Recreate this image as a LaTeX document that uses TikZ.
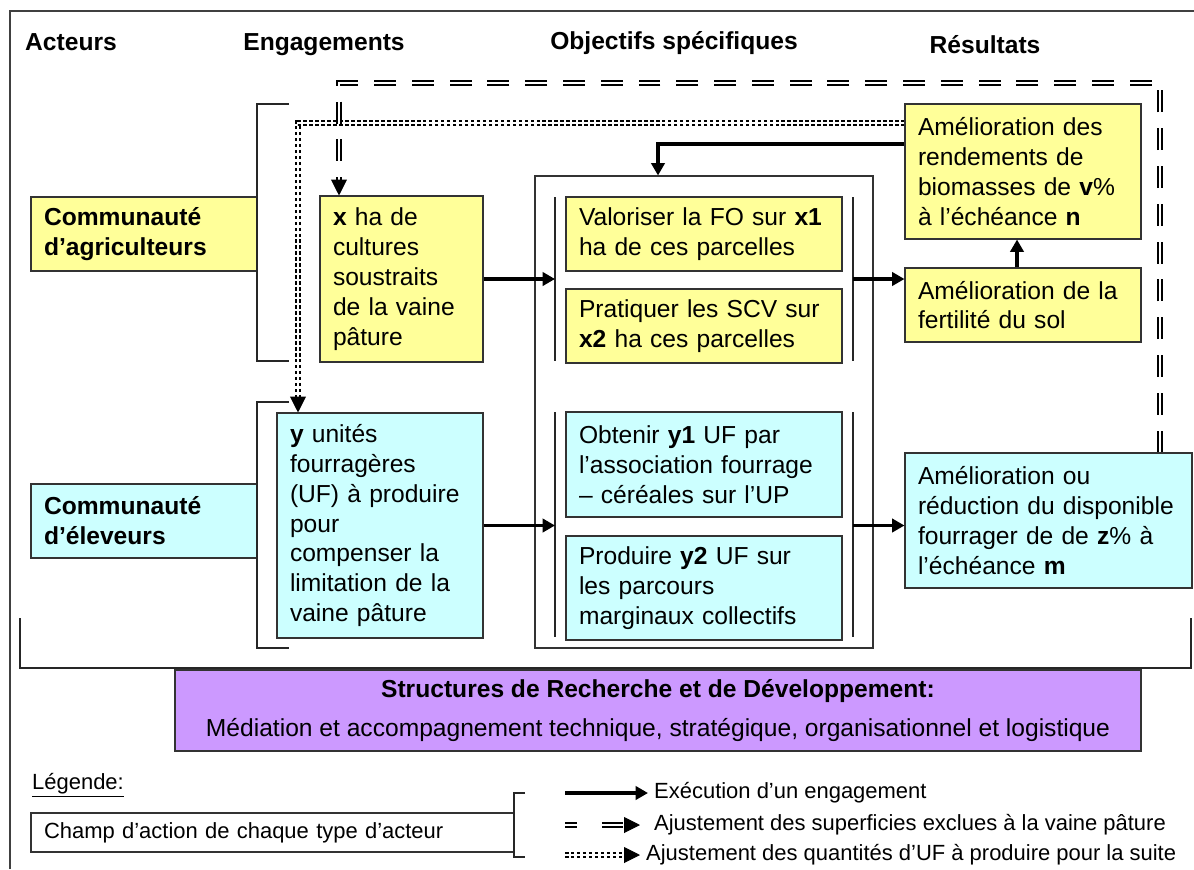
\documentclass[tikz,border=0pt]{standalone}
\usepackage{fontspec}
\setmainfont{Liberation Sans}
\usepackage{tikz}
\usetikzlibrary{arrows.meta,positioning,calc}

\definecolor{boxyellow}{HTML}{FFFF99}
\definecolor{boxcyan}{HTML}{CCFFFF}
\definecolor{boxpurple}{HTML}{CC99FF}

\begin{document}
\begin{tikzpicture}[
  font=\fontsize{14}{17}\selectfont,
  every node/.style={},
  basebox/.style={draw=black!80, line width=0.6pt, align=left, inner xsep=0.26cm, inner ysep=0pt},
  ybox/.style={basebox, fill=boxyellow},
  cbox/.style={basebox, fill=boxcyan},
  colhead/.style={font=\fontsize{14}{17}\selectfont\bfseries},
  grp/.style={draw=black!85, line width=0.7pt},
  exec/.style={-{Triangle[length=7pt,width=7.5pt]}, line width=2.2pt},
  adjsup/.style={double, line width=0.9pt, double distance=1.4pt, dash pattern=on 12.5pt off 9pt},
  adjuf/.style={double, line width=1pt, double distance=1.2pt, dash pattern=on 2pt off 1.4pt},
  arrtip/.style={-{Triangle[length=9pt,width=9pt]}, line width=0.5pt},
  legtext/.style={font=\fontsize{12.5}{15}\selectfont, anchor=west}
]
\useasboundingbox (0,0) rectangle (23.88,-17.38);

\draw[draw=black!75, line width=0.8pt] (0.2,-17.38) |- (23.88,-0.22);

\node[colhead] (hact) at (1.42,-0.84) {Acteurs};
\node[colhead] (heng) at (6.48,-0.90) {Engagements};
\node[colhead] (hobj) at (13.48,-0.86) {Objectifs spécifiques};
\node[colhead] (hres) at (19.70,-0.90) {Résultats};

\node[ybox, font=\fontsize{14}{17}\selectfont\bfseries, text width=4.00cm, minimum height=1.48cm] (agri) at (2.88,-4.68) {Communauté\\d’agriculteurs};
\node[cbox, font=\fontsize{14}{17}\selectfont\bfseries, text width=4.00cm, minimum height=1.48cm] (elev) at (2.88,-10.42) {Communauté\\d’éleveurs};

\node[ybox, text width=2.74cm, minimum height=3.32cm] (xha) at (8.03,-5.58) {\textbf{x} ha de\\cultures\\soustraits\\de la vaine\\pâture};
\node[cbox, text width=3.60cm, minimum height=4.50cm] (yuf) at (7.60,-10.51) {\textbf{y} unités\\fourragères\\(UF) à produire\\pour\\compenser la\\limitation de la\\vaine pâture};

\node[basebox, minimum width=6.76cm, minimum height=9.44cm] (obj) at (14.08,-8.24) {};
\node[ybox, text width=5.00cm, minimum height=1.48cm] (valo) at (14.08,-4.68) {Valoriser la FO sur \textbf{x1}\\ha de ces parcelles};
\node[ybox, text width=5.00cm, minimum height=1.48cm] (prat) at (14.08,-6.52) {Pratiquer les SCV sur\\\textbf{x2} ha ces parcelles};
\node[cbox, text width=5.00cm, minimum height=2.10cm] (obt) at (14.08,-9.29) {Obtenir \textbf{y1} UF par\\l’association fourrage\\– céréales sur l’UP};
\node[cbox, text width=5.00cm, minimum height=2.08cm] (prod) at (14.08,-11.76) {Produire \textbf{y2} UF sur\\les parcours\\marginaux collectifs};

\node[ybox, text width=4.20cm, minimum height=2.70cm] (rend) at (20.46,-3.43) {Amélioration des\\rendements de\\biomasses de \textbf{v}\%\\à l’échéance \textbf{n}};
\node[ybox, text width=4.20cm, minimum height=1.48cm] (fert) at (20.46,-6.10) {Amélioration de la\\fertilité du sol};
\node[cbox, text width=5.22cm, minimum height=2.70cm] (redu) at (20.97,-10.41) {Amélioration ou\\réduction du disponible\\fourrager de de \textbf{z}\% à\\l’échéance \textbf{m}};

\node[basebox, fill=boxpurple, align=center, minimum width=19.32cm, minimum height=1.62cm] (rd) at (13.16,-14.21) {\textbf{Structures de Recherche et de Développement:}\\[5pt]Médiation et accompagnement technique, stratégique, organisationnel et logistique};

\draw[grp] (5.78,-2.08) -| (5.14,-7.22) -- (5.78,-7.22);
\draw[grp] (5.78,-8.04) -| (5.14,-12.96) -- (5.78,-12.96);
\draw[grp] (0.40,-12.36) |- (23.82,-13.36) -- (23.82,-12.36);

\coordinate (gl) at (11.10,0);
\coordinate (gr) at (17.06,0);
\foreach \gx in {11.10,17.06} {
  \draw[grp] (\gx,-3.94) -- (\gx,-7.22);
  \draw[grp] (\gx,-8.24) -- (\gx,-12.74);
}

\draw[exec] (xha.east) -- (xha.east -| gl);
\draw[exec] (xha.east -| gr) -- (xha.east -| fert.west);
\draw[exec] (yuf.east) -- (yuf.east -| gl);
\draw[exec] (yuf.east -| gr) -- (yuf.east -| redu.west);
\draw[exec] ([xshift=-0.12cm]fert.north) -- ([xshift=-0.12cm]rend.south);
\draw[exec] ([yshift=0.55cm]rend.west) -| ([xshift=-0.92cm]obj.north);

\coordinate (yin) at ([xshift=-1.64cm]yuf.north);
\draw[adjuf] ([yshift=0.97cm]rend.west) -| ([yshift=0.30cm]yin);
\draw[arrtip] ([yshift=0.31cm]yin) -- (yin);

\coordinate (xin) at ([xshift=-1.25cm]xha.north);
\coordinate (dtop) at (0,-1.66);
\draw[adjsup] ([xshift=2.23cm]redu.north) |- (xin |- dtop) -- ([yshift=0.30cm]xin);
\draw[arrtip] ([yshift=0.31cm]xin) -- (xin);

\node[anchor=west, font=\fontsize{12.5}{15}\selectfont] (legtitle) at (0.52,-15.70) {\underline{Légende:}};
\node[basebox, fill=white, font=\fontsize{12.5}{15}\selectfont, text width=9.14cm, minimum height=0.78cm] (champ) at (5.45,-16.65) {Champ d’action de chaque type d’acteur};
\draw[grp] (10.50,-15.86) -| (10.28,-17.14) -- (10.50,-17.14);

\node[legtext] (lexe) at (12.96,-15.86) {Exécution d’un engagement};
\node[legtext] (lsup) at (12.96,-16.50) {Ajustement des superficies exclues à la vaine pâture};
\node[legtext] (luf) at (12.80,-17.10) {Ajustement des quantités d’UF à produire pour la suite};
\coordinate (lx) at (11.30,0);
\coordinate (lsupt) at ([xshift=-0.16cm]lsup.west);
\draw[exec] (lexe.west -| lx) -- (lexe.west);
\draw[adjsup, dash pattern=on 7pt off 14pt on 12pt off 2pt] (lsup.west -| lx) -- ([xshift=-0.31cm]lsupt);
\draw[arrtip] ([xshift=-0.32cm]lsupt) -- (lsupt);
\draw[adjuf] (luf.west -| lx) -- ([xshift=-0.30cm]luf.west);
\draw[arrtip] ([xshift=-0.31cm]luf.west) -- (luf.west);

\end{tikzpicture}
\end{document}
